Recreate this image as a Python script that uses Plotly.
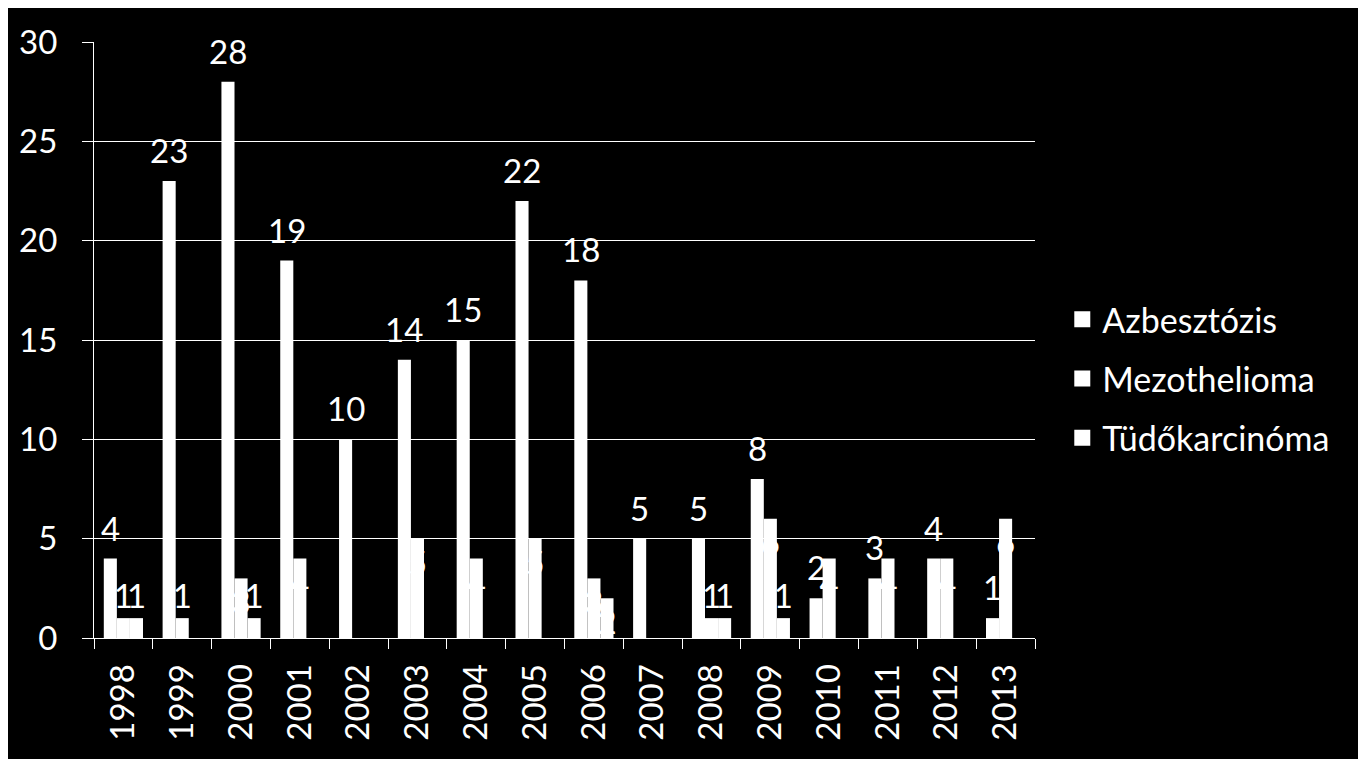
import plotly.graph_objects as go

# ---- data ----
years = ["1998", "1999", "2000", "2001", "2002", "2003", "2004", "2005",
         "2006", "2007", "2008", "2009", "2010", "2011", "2012", "2013"]
azbesztozis = [4, 23, 28, 19, 10, 14, 15, 22, 18, 5, 5, 8, 2, 3, 4, 1]
mezothelioma = [1, 1, 3, 4, None, 5, 4, 5, 3, None, 1, 6, 4, 4, 4, 6]
tudokarcinoma = [1, None, 1, None, None, None, None, None, 2, None, 1, 1,
                 None, None, None, None]
series_names = ["Azbesztózis", "Mezothelioma", "Tüdőkarcinóma"]
y_ticks = [0, 5, 10, 15, 20, 25, 30]

# ---- layout constants ----
W, H = 1366, 759
ML, MR, MT, MB = 86, 339, 34, 129
BARGAP = 1 / 3
FONT = "Lato"
FS = 33
WHITE = "#ffffff"
BLACK = "#000000"

plot_w = W - ML - MR
plot_h = H - MT - MB
px_per_unit = plot_h / (y_ticks[-1] - y_ticks[0])
bar_w = plot_w / len(years) * (1 - BARGAP) / 3


def label_positions(vals):
    # white labels sit inside the (white) bar unless the bar is too short
    return ["outside" if (v is not None and v * px_per_unit < FS) else "inside"
            for v in vals]


fig = go.Figure()

fig.add_trace(go.Bar(
    x=years, y=azbesztozis, name=series_names[0],
    marker=dict(color=WHITE, line=dict(width=0)), showlegend=False,
))
for name, vals in [(series_names[1], mezothelioma), (series_names[2], tudokarcinoma)]:
    fig.add_trace(go.Bar(
        x=years, y=vals, name=name,
        marker=dict(color=WHITE, line=dict(width=0)), showlegend=False,
        text=[("" if v is None else str(v)) for v in vals],
        textposition=label_positions(vals),
        insidetextanchor="end", textangle=0, constraintext="none",
        textfont=dict(family=FONT, size=FS, color=WHITE),
        cliponaxis=False,
    ))

# legend entries (square markers)
for name in series_names:
    fig.add_trace(go.Scatter(
        x=[years[0]], y=[None], mode="markers", name=name,
        marker=dict(symbol="square", size=20, color=WHITE),
        legendgroup=name, hoverinfo="skip",
    ))

# Azbesztózis value labels (category index used as x position)
for i, v in enumerate(azbesztozis):
    fig.add_annotation(
        x=i, y=v, xref="x", yref="y", text=str(v), showarrow=False,
        yanchor="bottom", xshift=-bar_w, yshift=9,
        font=dict(family=FONT, size=FS, color=WHITE),
    )

fig.update_layout(
    width=W, height=H,
    margin=dict(l=ML, r=MR, t=MT, b=MB, autoexpand=False),
    paper_bgcolor=BLACK, plot_bgcolor=BLACK,
    barmode="group", bargap=BARGAP, bargroupgap=0,
    font=dict(family=FONT, size=FS, color=WHITE),
    legend=dict(
        x=1.029, y=0.435, xanchor="left", yanchor="middle",
        font=dict(family=FONT, size=34, color=WHITE),
        bgcolor="rgba(0,0,0,0)", tracegroupgap=12,
        itemsizing="trace",
    ),
    xaxis=dict(
        type="category", categoryorder="array", categoryarray=years,
        range=[-0.5, len(years) - 0.5],
        tickson="boundaries", ticks="outside", ticklen=10,
        tickcolor=WHITE, tickwidth=1, showline=True, linecolor=WHITE, linewidth=1,
        tickangle=-90, showgrid=False, ticklabelstandoff=12,
        tickfont=dict(family=FONT, size=FS, color=WHITE),
    ),
    yaxis=dict(
        range=[y_ticks[0], y_ticks[-1]], tickvals=y_ticks, ticks="outside",
        ticklen=11, tickcolor=WHITE, tickwidth=1, showline=True, linecolor=WHITE,
        linewidth=1, showgrid=True, gridcolor=WHITE, gridwidth=1, zeroline=False,
        ticklabelstandoff=18,
        tickfont=dict(family=FONT, size=FS, color=WHITE),
    ),
)

fig.write_html("out.html")
